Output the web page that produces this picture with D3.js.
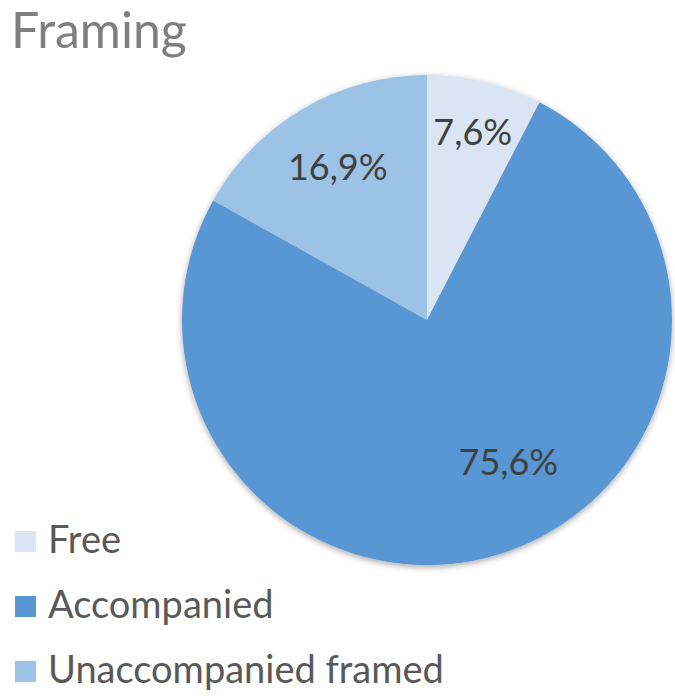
<!DOCTYPE html>
<html>
<head>
<meta charset="utf-8">
<script src="https://cdn.jsdelivr.net/npm/d3@7"></script>
<style>
  body { margin: 0; background: #fff; }
  text { font-family: "Lato", "Open Sans", sans-serif; }
</style>
</head>
<body>
<svg id="chart" width="675" height="696"></svg>
<script>
// Datos del gráfico
const categories = ["Free", "Accompanied", "Unaccompanied framed"];
const values = [7.6, 75.6, 16.9];
const labels = ["7,6%", "75,6%", "16,9%"];
const colors = ["#dae5f4", "#5996d4", "#9cc2e5"];

const svg = d3.select("#chart");
const cx = 427, cy = 320, radius = 245;

// Sombra suave
const defs = svg.append("defs");
const f = defs.append("filter").attr("id", "shadow")
    .attr("x", "-10%").attr("y", "-10%").attr("width", "120%").attr("height", "120%");
f.append("feDropShadow").attr("dx", 0).attr("dy", 2).attr("stdDeviation", 3)
    .attr("flood-color", "#000").attr("flood-opacity", 0.35);

// Título
svg.append("text")
    .attr("x", 11).attr("y", 48)
    .attr("font-size", 50)
    .attr("fill", "#7f7f7f")
    .text("Framing");

const pie = d3.pie().sort(null).value(d => d);
const arcs = pie(values);
const arc = d3.arc().innerRadius(0).outerRadius(radius);

const g = svg.append("g").attr("transform", `translate(${cx},${cy})`);

g.append("g").attr("filter", "url(#shadow)")
    .selectAll("path")
    .data(arcs)
    .enter()
    .append("path")
    .attr("d", arc)
    .attr("fill", (d, i) => colors[i]);

// Etiquetas: fracción del radio y desplazamiento angular respecto al centro del sector
const labelPlace = [[0.79, 0], [0.67, -13], [0.72, 0]];
g.selectAll(".lbl")
    .data(arcs)
    .enter()
    .append("text")
    .attr("class", "lbl")
    .attr("transform", (d, i) => {
        const r = radius * labelPlace[i][0];
        const a = (d.startAngle + d.endAngle) / 2 + labelPlace[i][1] * Math.PI / 180;
        return `translate(${r * Math.sin(a)},${-r * Math.cos(a)})`;
    })
    .attr("text-anchor", "middle")
    .attr("dy", "0.35em")
    .attr("font-size", 36)
    .attr("fill", "#404040")
    .text((d, i) => labels[i]);

// Leyenda
const legend = svg.append("g");
const rows = legend.selectAll("g")
    .data(categories)
    .enter()
    .append("g")
    .attr("transform", (d, i) => `translate(15, ${553 + i * 65})`);

rows.append("rect")
    .attr("x", 0).attr("y", -22)
    .attr("width", 21).attr("height", 21)
    .attr("fill", (d, i) => colors[i]);

rows.append("text")
    .attr("x", 33).attr("y", 0)
    .attr("font-size", 38)
    .attr("fill", "#595959")
    .text(d => d);
</script>
</body>
</html>
